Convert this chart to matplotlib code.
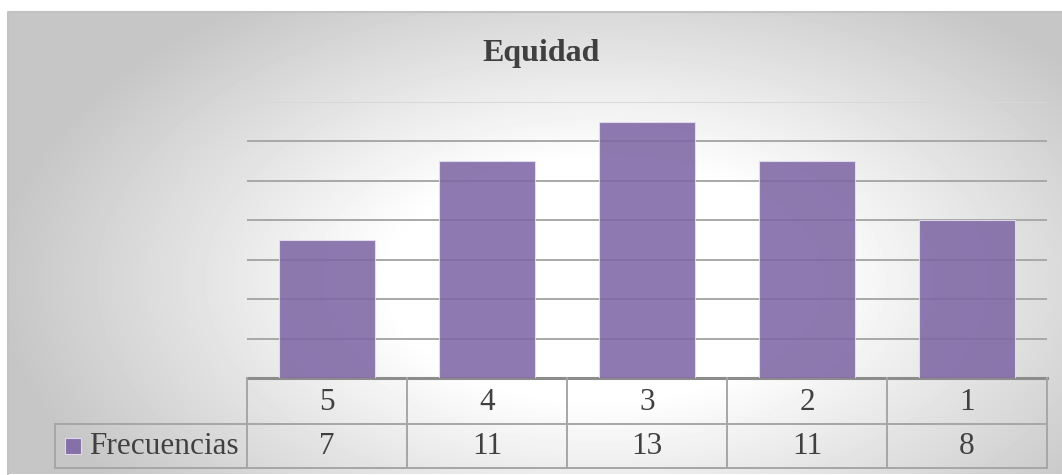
import numpy as np
import matplotlib
matplotlib.use("Agg")
from matplotlib import pyplot as plt
from matplotlib.patches import Rectangle

title = "Equidad"
series_name = "Frecuencias"
categories = ["5", "4", "3", "2", "1"]
frecuencias = [7, 11, 13, 11, 8]
y_max = 14
y_step = 2

W, H = 1062, 475
plt.rcParams["font.family"] = ["Liberation Serif", "DejaVu Serif"]
text_color = "#404040"
grid_color = "#a8a8a8"
table_color = "#a6a6a6"
bar_color = "#7f67a5"

fig = plt.figure(figsize=(W / 100, H / 100), dpi=100)

# background axes in pixel coordinates (y grows downward)
bg = fig.add_axes([0, 0, 1, 1])
bg.set_xlim(0, W)
bg.set_ylim(H, 0)
bg.axis("off")

# chart area: white in the middle, fading to grey at the edges
x0, y0, x1, y1 = 8, 12, W, 474
xx, yy = np.meshgrid(np.arange(x0, x1), np.arange(y0, y1))
d = np.sqrt(((xx - 600) / 600.0) ** 2 + ((yy - 280) / 340.0) ** 2)
t = np.clip((d - 0.35) / 0.65, 0, 1)
shade = (255 - 57 * t) / 255.0
bg.imshow(shade, cmap="gray", vmin=0, vmax=1, extent=(x0, x1, y1, y0),
          aspect="auto", interpolation="bilinear", zorder=0)
bg.plot([x0, x0, x1], [y1, y0, y0], color="#c2c2c2", lw=1.5, zorder=1)

bg.text(541, 53, title, ha="center", va="center", fontsize=23,
        fontweight="bold", color=text_color, zorder=3)

# plot area
px0, px1, py_top, py_bot = 247, 1047, 102, 378
ax = fig.add_axes([px0 / W, (H - py_bot) / H, (px1 - px0) / W, (py_bot - py_top) / H])
ax.patch.set_visible(False)
ax.set_xlim(-0.5, len(categories) - 0.5)
ax.set_ylim(0, y_max)
for s in ax.spines.values():
    s.set_visible(False)
ax.set_xticks([])
ax.set_yticks([])
for v in range(y_step, y_max + 1, y_step):
    ax.axhline(v, color=grid_color if v < y_max else "#d8d8d8", lw=1.4, zorder=1)
x = np.arange(len(categories))
ax.bar(x, frecuencias, width=0.6, color=bar_color, alpha=0.88,
       edgecolor="#e6def0", linewidth=0.8, zorder=2)

# data table under the plot
col_w = (px1 - px0) / len(categories)
row_top, row_mid, row_bot = 378, 424, 468
leg_x = 55
bg.plot([px0, px1], [row_top, row_top], color="#8c8c8c", lw=2.2, zorder=4)
bg.plot([px0, px0], [row_top, row_bot], color=table_color, lw=1.4, zorder=4)
for i in range(len(categories)):
    xr = px0 + col_w * (i + 1)
    bg.plot([xr, xr], [row_top, row_bot], color=table_color, lw=1.4, zorder=4)
bg.plot([leg_x, px1], [row_mid, row_mid], color=table_color, lw=1.4, zorder=4)
bg.plot([leg_x, px1], [row_bot, row_bot], color=table_color, lw=1.4, zorder=4)
bg.plot([leg_x, leg_x], [row_mid, row_bot], color=table_color, lw=1.4, zorder=4)

for i, (cat, val) in enumerate(zip(categories, frecuencias)):
    cx = px0 + col_w * (i + 0.5)
    bg.text(cx, (row_top + row_mid) / 2 + 1, cat, ha="center", va="center",
            fontsize=22.5, color=text_color, zorder=5)
    bg.text(cx, (row_mid + row_bot) / 2 + 1, str(val), ha="center", va="center",
            fontsize=22.5, color=text_color, zorder=5)

bg.add_patch(Rectangle((65, 438), 16, 16, facecolor=bar_color, alpha=0.9,
                       edgecolor="#e6def0", lw=0.8, zorder=5))
bg.text(89, (row_mid + row_bot) / 2 + 1, series_name, ha="left", va="center",
        fontsize=22.5, color=text_color, zorder=5)

fig.savefig("out.png", dpi=100)
